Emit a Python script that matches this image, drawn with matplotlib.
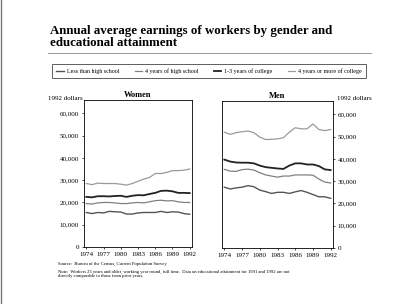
import matplotlib.pyplot as plt
from matplotlib.lines import Line2D

plt.rcParams["font.family"] = ["Liberation Serif", "DejaVu Serif"]

years = list(range(1974, 1993))
series_names = ["Less than high school", "4 years of high school",
                "1-3 years of college", "4 years or more of college"]

women = {
    "Less than high school": [15.5, 15.0, 15.5, 15.3, 16.0, 15.8, 15.7, 14.8, 14.8, 15.3,
                              15.5, 15.5, 15.5, 16.0, 15.5, 15.8, 15.7, 15.0, 14.7],
    "4 years of high school": [19.5, 19.3, 19.8, 20.0, 20.0, 19.8, 19.5, 19.5, 19.8, 20.0,
                               19.8, 20.3, 20.8, 21.0, 20.7, 20.8, 20.3, 20.0, 20.0],
    "1-3 years of college": [22.5, 22.3, 22.8, 22.8, 22.7, 22.9, 23.0, 22.5, 23.0, 23.3,
                             23.2, 23.8, 24.3, 25.2, 25.3, 25.0, 24.3, 24.3, 24.2],
    "4 years or more of college": [28.5, 28.0, 28.7, 28.5, 28.5, 28.5, 28.2, 27.8, 28.5, 29.5,
                                   30.5, 31.2, 33.0, 33.0, 33.5, 34.3, 34.3, 34.5, 35.0],
}
men = {
    "Less than high school": [27.3, 26.5, 27.0, 27.3, 28.0, 27.5, 26.0, 25.3, 24.5, 25.0,
                              25.0, 24.5, 25.2, 25.8, 25.0, 24.0, 23.0, 23.0, 22.3],
    "4 years of high school": [35.3, 34.5, 34.4, 35.2, 35.4, 35.0, 33.8, 32.8, 32.3, 31.8,
                               32.3, 32.3, 32.8, 32.8, 32.8, 32.7, 31.0, 29.6, 29.2],
    "1-3 years of college": [39.7, 38.8, 38.4, 38.3, 38.3, 38.0, 37.0, 36.3, 36.0, 35.7,
                             35.5, 37.0, 38.0, 38.0, 37.5, 37.5, 36.8, 35.3, 35.0],
    "4 years or more of college": [52.0, 51.0, 51.8, 52.2, 52.5, 51.8, 49.8, 48.7, 48.8, 49.0,
                                   49.5, 52.0, 54.0, 53.5, 53.5, 55.7, 53.2, 52.7, 53.2],
}

colors = {"Less than high school": "#555555", "4 years of high school": "#808080",
          "1-3 years of college": "#222222", "4 years or more of college": "#9a9a9a"}
widths = {"Less than high school": 1.0, "4 years of high school": 0.9,
          "1-3 years of college": 1.3, "4 years or more of college": 0.9}

xticks = list(range(1974, 1993, 3))
yticks = list(range(0, 60001, 10000))

fig = plt.figure(figsize=(4.0, 3.04), dpi=100)

ax_w = fig.add_axes([84 / 400, 1 - 247 / 304, 108 / 400, 147 / 304])
ax_m = fig.add_axes([222 / 400, 1 - 248 / 304, 111 / 400, 147 / 304])

for ax, data, title in [(ax_w, women, "Women"), (ax_m, men, "Men")]:
    for name in series_names:
        ax.plot(years, [v * 1000 for v in data[name]], color=colors[name], lw=widths[name])
    ax.set_xlim(1973.6, 1992.4)
    ax.set_ylim(0, 66000)
    ax.set_xticks(xticks)
    ax.set_yticks(yticks)
    ax.set_yticklabels([f"{v:,}" for v in yticks])
    ax.tick_params(labelsize=5, length=1.5, width=0.5, pad=2)
    for s in ax.spines.values():
        s.set_linewidth(0.6)
    ax.set_title(title, fontsize=6, fontweight="bold", pad=2)

ax_m.yaxis.tick_right()
ax_m.yaxis.set_label_position("right")

fig.text(48 / 400, 1 - 98 / 304, "1992 dollars", fontsize=5, va="center")
fig.text(337 / 400, 1 - 98 / 304, "1992 dollars", fontsize=5, va="center")

fig.text(50 / 400, 1 - 37 / 304, "Annual average earnings of workers by gender and\neducational attainment",
         fontsize=9.3, fontweight="bold", va="center", linespacing=1.05)
fig.add_artist(Line2D([48 / 400, 371 / 400], [1 - 52.5 / 304, 1 - 52.5 / 304],
                      color="#888888", lw=0.6))

handles = [Line2D([], [], color=colors[n], lw=widths[n]) for n in series_names]
leg = fig.legend(handles, series_names, loc="center", bbox_to_anchor=(209 / 400, 1 - 71 / 304),
                 ncol=4, fontsize=4.3, frameon=True, fancybox=False, edgecolor="#444444",
                 handlelength=1.2, handletextpad=0.5, columnspacing=2.6, borderpad=0.7,
                 framealpha=1)
leg.get_frame().set_linewidth(0.6)

fig.text(58 / 400, 1 - 264 / 304, "Source:  Bureau of the Census, Current Population Survey",
         fontsize=3.3, va="center")
fig.text(58 / 400, 1 - 274 / 304,
         "Note:  Workers 25 years and older, working year round, full time.  "
         "Data on educational attainment for 1991 and 1992 are not\n"
         "directly comparable to those from prior years.",
         fontsize=3.3, va="center", linespacing=1.15)

fig.add_artist(Line2D([0.002, 0.002], [0, 1], color="#777777", lw=1.0))

fig.savefig("out.png", dpi=100)
